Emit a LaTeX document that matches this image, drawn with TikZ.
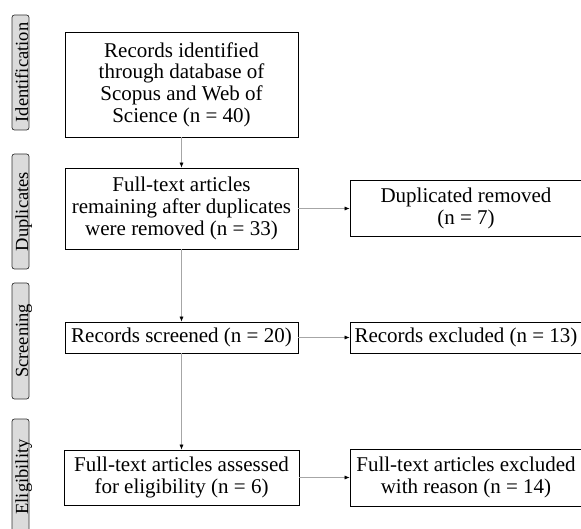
\documentclass[tikz,border=0pt]{standalone}
\usepackage{fontspec}
\setmainfont{Liberation Serif}
\usetikzlibrary{arrows.meta}
\definecolor{stagegray}{RGB}{219,219,219}

\tikzset{
  flowbox/.style={draw=black,line width=0.7pt,align=center,inner sep=1pt,
    font=\fontsize{21}{21.7}\selectfont},
  stagebox/.style={draw=black!80,fill=stagegray,line width=0.7pt,rounded corners=2.5pt,
    rotate=90,inner sep=0pt,minimum height=17pt,text height=15pt,text depth=0pt,
    font=\fontsize{18.5}{20}\selectfont},
  flowarrow/.style={draw=gray!70,line width=0.6pt,-{Latex[black,length=5pt,width=4pt]}}
}

\begin{document}
\begin{tikzpicture}[x=1pt,y=-1pt]
  \useasboundingbox (0,0) rectangle (581,529);

  % stages
  \node[stagebox,minimum width=115pt] (stid) at (20.5,72.5) {Identification};
  \node[stagebox,minimum width=115pt] (stdup) at (20.5,211.5) {Duplicates};
  \node[stagebox,minimum width=116pt] (stscr) at (20.5,341) {Screening};
  \node[stagebox,minimum width=116pt] (stelig) at (20.5,477) {Eligibility};

  % main column
  \node[flowbox,minimum width=233pt,minimum height=105pt] (ident) at (181.5,84.5)
    {Records identified\\through database of\\Scopus and Web of\\Science (n = 40)};
  \node[flowbox,minimum width=233pt,minimum height=81pt] (dupl) at (181.5,208.5)
    {Full-text articles\\remaining after duplicates\\were removed (n = 33)};
  \node[flowbox,minimum width=233pt,minimum height=31pt] (screen) at (181.5,337.5)
    {Records screened (n = 20)};
  \node[flowbox,minimum width=235pt,minimum height=55pt] (elig) at (181.5,477.5)
    {Full-text articles assessed\\for eligibility (n = 6)};

  % right column
  \node[flowbox,minimum width=232pt,minimum height=56pt] (duprem) at (466,208.5)
    {Duplicated removed\\(n = 7)};
  \node[flowbox,minimum width=232pt,minimum height=31pt] (excl) at (466,337.5)
    {Records excluded (n = 13)};
  \node[flowbox,minimum width=232pt,minimum height=57pt] (exclrsn) at (466,477.5)
    {Full-text articles excluded\\with reason (n = 14)};

  % connectors
  \draw[flowarrow] (ident) -- (dupl);
  \draw[flowarrow] (dupl) -- (duprem);
  \draw[flowarrow] (dupl) -- (screen);
  \draw[flowarrow] (screen) -- (excl);
  \draw[flowarrow] (screen) -- (elig);
  \draw[flowarrow] (elig) -- (exclrsn);
\end{tikzpicture}
\end{document}
